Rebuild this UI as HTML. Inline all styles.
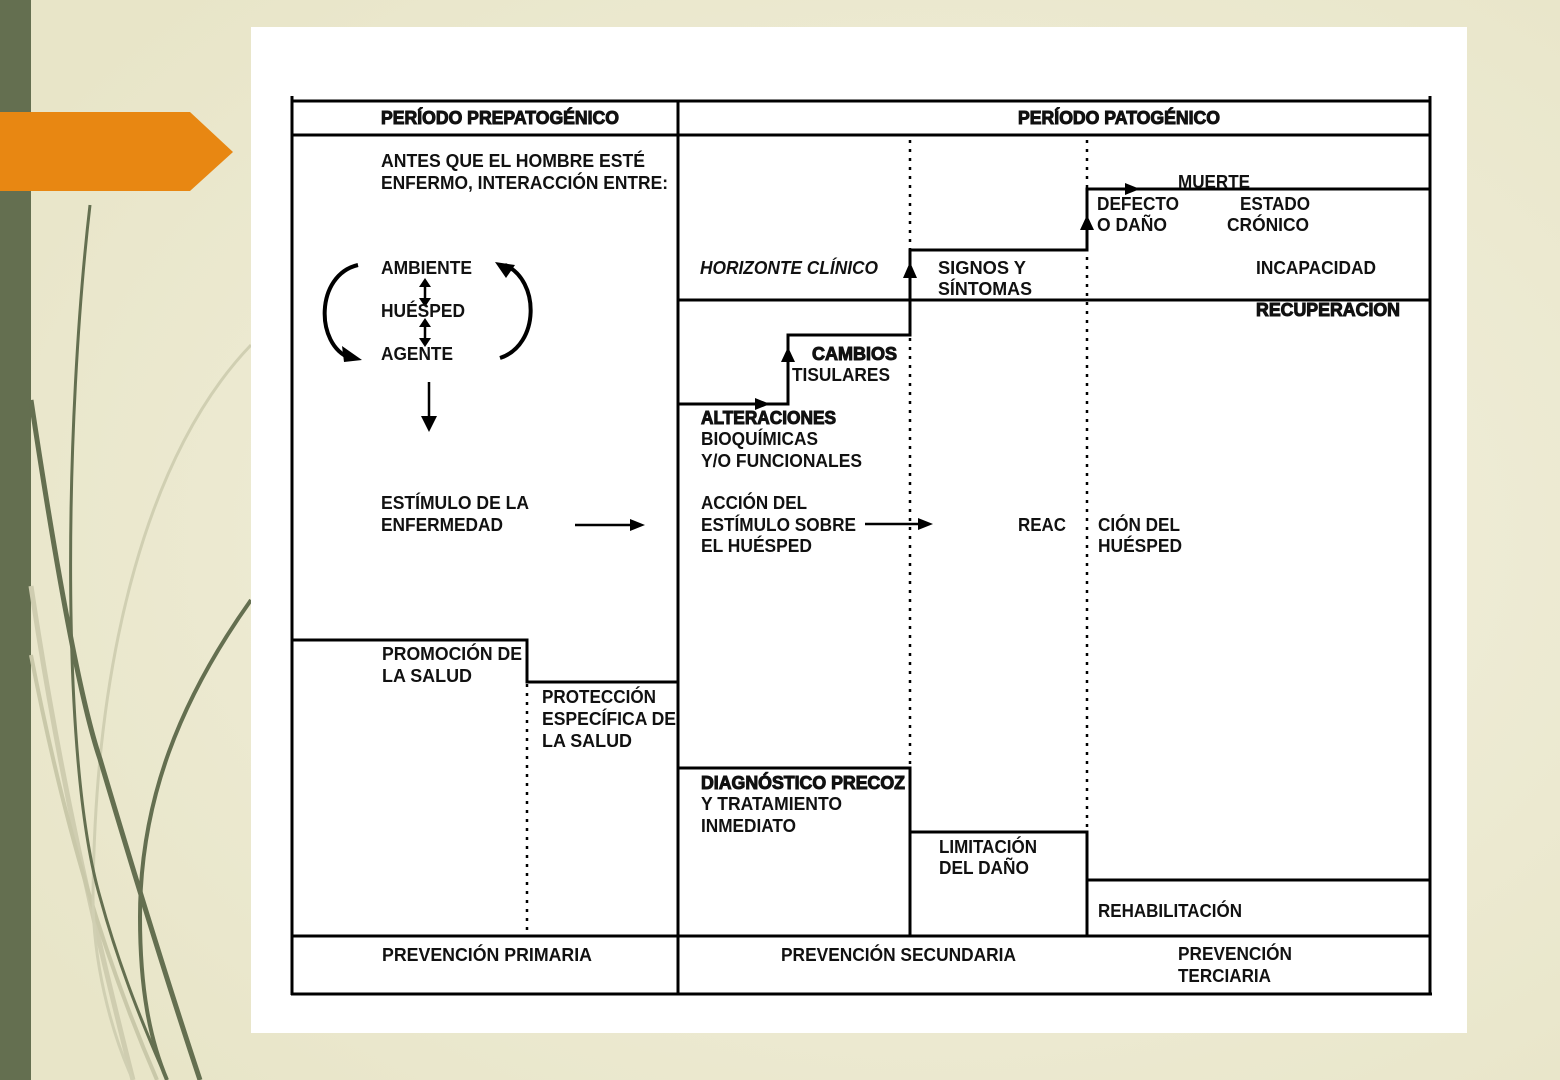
<!DOCTYPE html>
<html><head><meta charset="utf-8"><style>
html,body{margin:0;padding:0;width:1560px;height:1080px;overflow:hidden;background:#ebe8cd}
svg{display:block}
text{font-family:"Liberation Sans",sans-serif;font-size:18px;font-weight:bold;fill:#111}
.h{stroke:#111;stroke-width:1px;paint-order:stroke}
</style></head><body>
<svg width="1560" height="1080" viewBox="0 0 1560 1080" xmlns="http://www.w3.org/2000/svg">
<defs><radialGradient id="g" cx="0.6" cy="0.5" r="0.7"><stop offset="0" stop-color="#f3f1e0"/><stop offset="1" stop-color="#e8e5c8"/></radialGradient></defs>
<rect width="1560" height="1080" fill="url(#g)"/>
<rect x="0" y="0" width="31" height="1080" fill="#646f50"/>
<g fill="none">
<path d="M31 586 C60 780 95 930 133 1080" stroke="#cfcdb0" stroke-width="5"/>
<path d="M31 655 C65 830 105 960 157 1080" stroke="#c9c8a9" stroke-width="4"/>
<path d="M251 345 C150 450 95 650 93 897 C93 960 110 1030 133 1080" stroke="#d0cfb2" stroke-width="3"/>
<path d="M90 205 C65 420 60 760 100 897 C120 970 145 1030 167 1080" stroke="#646f50" stroke-width="3"/>
<path d="M31 400 C55 560 80 700 100 759 C130 860 170 990 200 1080" stroke="#646f50" stroke-width="5"/>
<path d="M251 600 C180 700 140 800 140 917 C140 990 150 1040 167 1080" stroke="#646f50" stroke-width="4"/>
</g>
<path d="M0 112 H190 L233 152 L190 191 H0 Z" fill="#e88712"/>
<rect x="251" y="27" width="1216" height="1006" fill="#fff"/>
<g stroke="#000" stroke-width="3" fill="none">
<path d="M292 96 V995 M1430 96 V993 M291 101 H1431 M292 135 H1430 M678 101 V995 M292 936 H1430 M291 994 H1432"/>
<path d="M292 640 H527 V682 H678"/>
<path d="M678 300 H1430"/>
<path d="M678 404 H788 V335 H910 V250 H1087 V189 H1430"/>
<path d="M678 768 H910 V832 H1087 V880 H1430"/>
<path d="M910 832 V936 M1087 880 V936"/>
<path d="M575 525 H632 M865 524 H920 M429 382 V420 M425 283 V302 M425 323 V342" stroke-width="2.5"/>
<path d="M358 265 C315 275 315 345 350 358 M500 358 C540 345 540 280 505 265" stroke-width="4"/>
</g>
<g stroke="#000" stroke-width="2.5" stroke-dasharray="3 6" fill="none">
<path d="M527 684 V934 M910 140 V768 M1087 140 V832"/>
</g>
<g fill="#000">
<path d="M645 525 L630 519 L630 531Z"/>
<path d="M933 524 L918 518 L918 530Z"/>
<path d="M429 432 L421 416 L437 416Z"/>
<path d="M425 278 L419 287 L431 287Z M425 307 L419 298 L431 298Z M425 318 L419 327 L431 327Z M425 347 L419 338 L431 338Z"/>
<path d="M362 360 L342 346 L344 362Z M495 262 L515 265 L506 278Z"/>
<path d="M910 262 L903 278 L917 278Z"/>
<path d="M788 347 L781 362 L795 362Z"/>
<path d="M1087 215 L1080 230 L1094 230Z"/>
<path d="M770 404 L755 398 L755 410Z"/>
<path d="M1140 189 L1125 183 L1125 195Z"/>
</g>
<g>
<text x="381" y="124" textLength="238" lengthAdjust="spacingAndGlyphs" class="h">PERÍODO PREPATOGÉNICO</text>
<text x="1018" y="124" textLength="202" lengthAdjust="spacingAndGlyphs" class="h">PERÍODO PATOGÉNICO</text>
<text x="381" y="167" textLength="264" lengthAdjust="spacingAndGlyphs">ANTES QUE EL HOMBRE ESTÉ</text>
<text x="381" y="189" textLength="287" lengthAdjust="spacingAndGlyphs">ENFERMO, INTERACCIÓN ENTRE:</text>
<text x="381" y="274" textLength="91" lengthAdjust="spacingAndGlyphs">AMBIENTE</text>
<text x="381" y="317" textLength="84" lengthAdjust="spacingAndGlyphs">HUÉSPED</text>
<text x="381" y="360" textLength="72" lengthAdjust="spacingAndGlyphs">AGENTE</text>
<text x="381" y="509" textLength="148" lengthAdjust="spacingAndGlyphs">ESTÍMULO DE LA</text>
<text x="381" y="531" textLength="122" lengthAdjust="spacingAndGlyphs">ENFERMEDAD</text>
<text x="382" y="660" textLength="140" lengthAdjust="spacingAndGlyphs">PROMOCIÓN DE</text>
<text x="382" y="682" textLength="90" lengthAdjust="spacingAndGlyphs">LA SALUD</text>
<text x="542" y="703" textLength="114" lengthAdjust="spacingAndGlyphs">PROTECCIÓN</text>
<text x="542" y="725" textLength="134" lengthAdjust="spacingAndGlyphs">ESPECÍFICA DE</text>
<text x="542" y="747" textLength="90" lengthAdjust="spacingAndGlyphs">LA SALUD</text>
<text x="382" y="961" textLength="210" lengthAdjust="spacingAndGlyphs">PREVENCIÓN PRIMARIA</text>
<text x="700" y="274" textLength="178" lengthAdjust="spacingAndGlyphs" font-style="italic">HORIZONTE CLÍNICO</text>
<text x="938" y="274" textLength="88" lengthAdjust="spacingAndGlyphs">SIGNOS Y</text>
<text x="938" y="295" textLength="94" lengthAdjust="spacingAndGlyphs">SÍNTOMAS</text>
<text x="1178" y="188" textLength="72" lengthAdjust="spacingAndGlyphs">MUERTE</text>
<text x="1097" y="210" textLength="82" lengthAdjust="spacingAndGlyphs">DEFECTO</text>
<text x="1097" y="231" textLength="70" lengthAdjust="spacingAndGlyphs">O DAÑO</text>
<text x="1240" y="210" textLength="70" lengthAdjust="spacingAndGlyphs">ESTADO</text>
<text x="1227" y="231" textLength="82" lengthAdjust="spacingAndGlyphs">CRÓNICO</text>
<text x="1256" y="274" textLength="120" lengthAdjust="spacingAndGlyphs">INCAPACIDAD</text>
<text x="1256" y="316" textLength="144" lengthAdjust="spacingAndGlyphs" class="h">RECUPERACION</text>
<text x="812" y="360" textLength="85" lengthAdjust="spacingAndGlyphs" class="h">CAMBIOS</text>
<text x="792" y="381" textLength="98" lengthAdjust="spacingAndGlyphs">TISULARES</text>
<text x="701" y="424" textLength="135" lengthAdjust="spacingAndGlyphs" class="h">ALTERACIONES</text>
<text x="701" y="445" textLength="117" lengthAdjust="spacingAndGlyphs">BIOQUÍMICAS</text>
<text x="701" y="467" textLength="161" lengthAdjust="spacingAndGlyphs">Y/O FUNCIONALES</text>
<text x="701" y="509" textLength="106" lengthAdjust="spacingAndGlyphs">ACCIÓN DEL</text>
<text x="701" y="531" textLength="155" lengthAdjust="spacingAndGlyphs">ESTÍMULO SOBRE</text>
<text x="701" y="552" textLength="111" lengthAdjust="spacingAndGlyphs">EL HUÉSPED</text>
<text x="1018" y="531" textLength="48" lengthAdjust="spacingAndGlyphs">REAC</text>
<text x="1098" y="531" textLength="82" lengthAdjust="spacingAndGlyphs">CIÓN DEL</text>
<text x="1098" y="552" textLength="84" lengthAdjust="spacingAndGlyphs">HUÉSPED</text>
<text x="701" y="789" textLength="204" lengthAdjust="spacingAndGlyphs" class="h">DIAGNÓSTICO PRECOZ</text>
<text x="701" y="810" textLength="141" lengthAdjust="spacingAndGlyphs">Y TRATAMIENTO</text>
<text x="701" y="832" textLength="95" lengthAdjust="spacingAndGlyphs">INMEDIATO</text>
<text x="939" y="853" textLength="98" lengthAdjust="spacingAndGlyphs">LIMITACIÓN</text>
<text x="939" y="874" textLength="90" lengthAdjust="spacingAndGlyphs">DEL DAÑO</text>
<text x="1098" y="917" textLength="144" lengthAdjust="spacingAndGlyphs">REHABILITACIÓN</text>
<text x="781" y="961" textLength="235" lengthAdjust="spacingAndGlyphs">PREVENCIÓN SECUNDARIA</text>
<text x="1178" y="960" textLength="114" lengthAdjust="spacingAndGlyphs">PREVENCIÓN</text>
<text x="1178" y="982" textLength="93" lengthAdjust="spacingAndGlyphs">TERCIARIA</text>
</g>
</svg>
</body></html>
